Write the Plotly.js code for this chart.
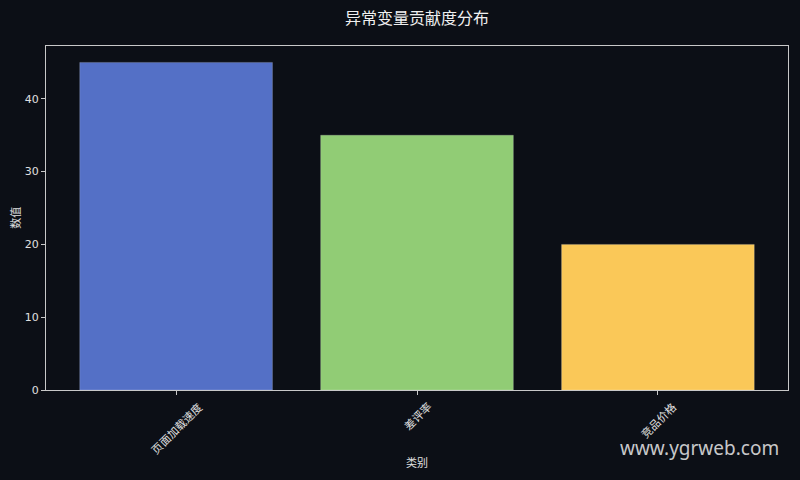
<!DOCTYPE html>
<html>
<head>
<meta charset="utf-8">
<script src="https://cdn.plot.ly/plotly-3.0.1.min.js"></script>
<style>html,body{margin:0;padding:0;background:#0c0f16;}#chart{width:800px;height:480px;}</style>
</head>
<body>
<div id="chart"></div>
<script>
const categories = ["页面加载速度", "差评率", "竞品价格"];
const values = [45, 35, 20];
const barColors = ["#5470c6", "#91cc75", "#fac858"];
const yTicks = [0, 10, 20, 30, 40];

const fontFam = "DejaVu Sans, Noto Sans CJK SC, sans-serif";
const cjkFam = "Noto Sans CJK SC, DejaVu Sans, sans-serif";
const axisColor = "#c8c8c8";
const textColor = "#e0e0e0";

const positions = categories.map((c, i) => i);

const trace = {
  type: "bar",
  x: positions,
  y: values,
  width: 0.8,
  marker: { color: barColors, line: { color: "rgba(255,255,255,0.3)", width: 0.6 } },
  hoverinfo: "skip"
};

const tickLabelAnnotations = categories.map((c, i) => ({
  text: c,
  xref: "x", yref: "paper",
  x: positions[i], y: 0,
  xanchor: "center", yanchor: "top",
  yshift: -6,
  textangle: -45,
  showarrow: false,
  font: { family: cjkFam, size: 11, color: textColor }
}));

const layout = {
  width: 800, height: 480,
  paper_bgcolor: "#0c0f16",
  plot_bgcolor: "#0c0f16",
  margin: { l: 46, r: 12, t: 46, b: 90 },
  showlegend: false,
  title: {
    text: "异常变量贡献度分布",
    font: { family: cjkFam, size: 16, color: "#f0f0f0" },
    x: 0.5, xref: "paper", xanchor: "center", y: 0.962, yanchor: "middle"
  },
  xaxis: {
    range: [-0.54, 2.54],
    tickmode: "array",
    tickvals: positions,
    ticktext: categories,
    showticklabels: false,
    ticks: "outside", ticklen: 4, tickcolor: axisColor, tickwidth: 1,
    showline: true, mirror: true, linecolor: axisColor, linewidth: 1,
    showgrid: false, zeroline: false
  },
  yaxis: {
    range: [0, 47.25],
    tickmode: "array",
    tickvals: yTicks,
    ticktext: yTicks.map(String),
    ticks: "outside", ticklen: 4, tickcolor: axisColor, tickwidth: 1,
    showline: true, mirror: true, linecolor: axisColor, linewidth: 1,
    showgrid: false, zeroline: false,
    tickfont: { family: fontFam, size: 11, color: textColor }
  },
  annotations: tickLabelAnnotations.concat([{
    text: "类别",
    xref: "paper", yref: "paper",
    x: 0.5, y: -0.209, xanchor: "center", yanchor: "middle",
    showarrow: false,
    font: { family: cjkFam, size: 11, color: textColor }
  }, {
    text: "数值",
    xref: "paper", yref: "paper",
    x: -0.042, y: 0.5, xanchor: "center", yanchor: "middle",
    textangle: -90,
    showarrow: false,
    font: { family: cjkFam, size: 11, color: textColor }
  }, {
    text: "www.ygrweb.com",
    xref: "paper", yref: "paper",
    x: 0.9906, y: -0.1686, xanchor: "right", yanchor: "middle",
    showarrow: false,
    font: { family: "Noto Sans, DejaVu Sans, sans-serif", size: 19, color: "rgba(235,235,235,0.85)" }
  }])
};

Plotly.newPlot("chart", [trace], layout, { displayModeBar: false, staticPlot: true });
</script>
</body>
</html>
